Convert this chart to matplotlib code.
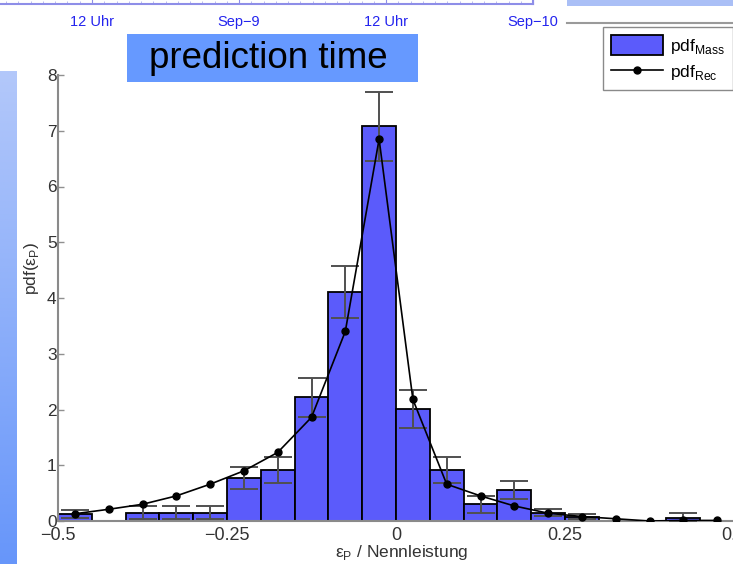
import numpy as np
import matplotlib.pyplot as plt
from matplotlib.patches import Rectangle, Patch
from matplotlib.lines import Line2D
from matplotlib.colors import LinearSegmentedColormap

plt.rcParams['font.family'] = ['Liberation Sans', 'DejaVu Sans']

# histogram bins of the normalized prediction error
bin_centers = [-0.475, -0.425, -0.375, -0.325, -0.275, -0.225, -0.175, -0.125, -0.075, -0.025,
               0.025, 0.075, 0.125, 0.175, 0.225, 0.275, 0.325, 0.375, 0.425, 0.475]
bin_width = 0.05

# measured pdf with its error, and reconstructed pdf
pdf_mess = [0.13, 0.0, 0.15, 0.15, 0.15, 0.77, 0.92, 2.22, 4.11, 7.08,
            2.01, 0.92, 0.30, 0.56, 0.15, 0.08, 0.0, 0.0, 0.06, 0.0]
mess_err = [0.07, 0.0, 0.12, 0.12, 0.12, 0.20, 0.23, 0.35, 0.47, 0.62,
            0.34, 0.23, 0.15, 0.16, 0.06, 0.05, 0.0, 0.0, 0.08, 0.0]
pdf_rec = [0.13, 0.21, 0.30, 0.45, 0.66, 0.90, 1.23, 1.86, 3.40, 6.85,
           2.18, 0.66, 0.45, 0.27, 0.14, 0.08, 0.04, 0.0, 0.01, 0.01]

x_ticks = [-0.5, -0.25, 0, 0.25, 0.5]
x_tick_labels = ['\u22120.5', '\u22120.25', '0', '0.25', '0.5']

# time axis of the forecast chart above (hours after Sep-8 0:00)
time_ticks = [12, 24, 36, 48]
time_labels = ['12 Uhr', 'Sep\u22129', '12 Uhr', 'Sep\u221210']

W, H = 733, 564
fig = plt.figure(figsize=(W / 100, H / 100), dpi=100)

# left gradient stripe of the slide
ax_bg = fig.add_axes([0, 0, 17 / W, 493 / H])
grad = np.linspace(0, 1, 256).reshape(-1, 1)
cmap = LinearSegmentedColormap.from_list('side', ['#b3c8fa', '#6796fa'])
ax_bg.imshow(grad, aspect='auto', cmap=cmap)
ax_bg.axis('off')

# bottom edge of the forecast chart
ax_top = fig.add_axes([0, 1 - 4 / H, 533 / W, 0.2])
ax_top.set_xlim(48 - 533 / 12.25, 48)
ax_top.set_ylim(0, 1)
for side in ['left', 'top']:
    ax_top.spines[side].set_visible(False)
for side in ['bottom', 'right']:
    ax_top.spines[side].set_color('#8e8ee8')
    ax_top.spines[side].set_linewidth(1.5)
ax_top.set_xticks(time_ticks)
ax_top.set_xticklabels(time_labels)
ax_top.set_xticks(np.arange(5, 48, 1), minor=True)
ax_top.tick_params(axis='x', direction='in', colors='#8e8ee8', labelcolor='#2323ee',
                   labelsize=10.5, length=5, pad=8)
ax_top.tick_params(axis='x', which='minor', direction='in', colors='#b0b0ee', length=2)
ax_top.set_yticks([])

# light panel in the top right corner
fig.patches.append(Rectangle((567 / W, 1 - 6 / H), 1, 6 / H, transform=fig.transFigure,
                             facecolor='#aabff6', edgecolor='none'))
fig.lines.append(Line2D([567 / W, 1], [1 - 23 / H, 1 - 23 / H], transform=fig.transFigure,
                        color='#9a9a9a', lw=1.5))

# main histogram
ax = fig.add_axes([58 / W, 43 / H, 676 / W, 446 / H])
ax.bar(bin_centers, pdf_mess, width=bin_width, color='#5b5bfb', edgecolor='black',
       linewidth=1.3, zorder=2)
err_x = [c for c, v in zip(bin_centers, pdf_mess) if v > 0]
err_y = [v for v in pdf_mess if v > 0]
err_v = [e for e, v in zip(mess_err, pdf_mess) if v > 0]
ax.errorbar(err_x, err_y, yerr=err_v, fmt='none', ecolor='#505050', elinewidth=1.4,
            capsize=9.8, capthick=1.4, zorder=3)
ax.plot(bin_centers, pdf_rec, color='black', lw=1.2, marker='o', markersize=5, zorder=4)

ax.set_xlim(-0.5, 0.5)
ax.set_ylim(0, 8)
ax.set_xticks(x_ticks)
ax.set_xticklabels(x_tick_labels)
ax.set_yticks(range(0, 9))
ax.tick_params(direction='in', colors='#909090', labelcolor='#333333', length=4, width=1)
ax.tick_params(axis='y', pad=1, labelsize=12.5)
ax.tick_params(axis='x', pad=4, labelsize=13)
for side in ['top', 'right']:
    ax.spines[side].set_visible(False)
for side in ['left', 'bottom']:
    ax.spines[side].set_color('#8a8a8a')
    ax.spines[side].set_linewidth(1.5)

ax.set_xlabel('\u03b5$_{\\mathregular{P}}$ / Nennleistung', fontsize=12.5, color='#333333')
ax.xaxis.set_label_coords(0.509, -0.05)
ax.set_ylabel('pdf(\u03b5$_{\\mathregular{P}}$)', fontsize=12.5, color='#333333')
ax.yaxis.set_label_coords(-0.025, 0.567)

handles = [Patch(facecolor='#5b5bfb', edgecolor='black', linewidth=1.3),
           Line2D([], [], color='black', lw=1.2, marker='o', markersize=5)]
fig.legend(handles, ['pdf$_{\\mathregular{Mass}}$', 'pdf$_{\\mathregular{Rec}}$'],
           loc='upper left', bbox_to_anchor=(603 / W, 1 - 27 / H), borderaxespad=0,
           fontsize=12.5, fancybox=False, edgecolor='#8a8a8a', framealpha=1,
           handlelength=3.0, handleheight=1.4, borderpad=0.45, labelspacing=0.35,
           handletextpad=0.4)

# title box
fig.patches.append(Rectangle((127 / W, 1 - 82 / H), 291 / W, 48 / H, transform=fig.transFigure,
                             facecolor='#6699ff', edgecolor='none', zorder=5))
fig.text(268 / W, 1 - 58 / H, 'prediction time', fontsize=26.5, ha='center', va='center',
         color='black', zorder=6)

fig.savefig('out.png', dpi=100)
